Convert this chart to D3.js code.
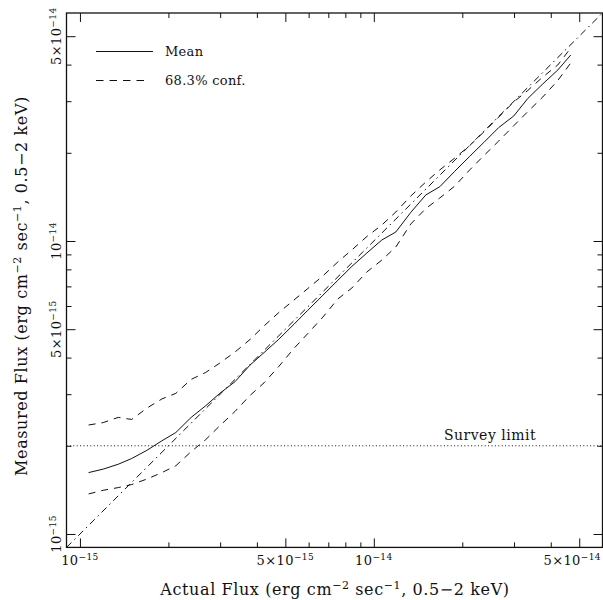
<!DOCTYPE html>
<html>
<head>
<meta charset="utf-8">
<script src="https://cdn.jsdelivr.net/npm/d3@7"></script>
<style>
  body { margin: 0; background: #fff; }
  text { font-family: "DejaVu Serif", serif; fill: #111; }
</style>
</head>
<body>
<script>
// fluxes in units of 1e-15 erg cm^-2 s^-1
var actualFlux = [1.07, 1.2, 1.35, 1.5, 1.69, 1.9, 2.12, 2.39, 2.68, 2.99, 3.37, 3.79, 4.23, 4.75, 5.35, 5.96, 6.71, 7.54, 8.42, 9.47,
                  10.65, 11.88, 13.36, 15.03, 16.77, 18.86, 21.21, 23.67, 26.62, 29.94, 33.41, 37.57, 42.26, 46.79];
var meanFlux = [1.62, 1.665, 1.73, 1.81, 1.93, 2.08, 2.22, 2.50, 2.74, 3.02, 3.31, 3.77, 4.16, 4.62, 5.20, 5.80, 6.53, 7.34, 8.19, 9.10,
                10.08, 10.73, 12.52, 14.36, 15.32, 17.30, 19.46, 21.69, 24.40, 26.71, 30.65, 34.35, 38.33, 43.13];
var upperFlux = [2.355, 2.40, 2.50, 2.46, 2.69, 2.89, 3.02, 3.37, 3.56, 3.83, 4.18, 4.61, 5.13, 5.70, 6.29, 6.88, 7.60, 8.48, 9.32, 10.36,
                 11.34, 12.56, 14.24, 15.90, 17.48, 19.20, 21.18, 23.55, 26.50, 29.82, 32.64, 36.28, 39.87, 45.58];
var lowerFlux = [1.37, 1.41, 1.44, 1.475, 1.54, 1.62, 1.71, 1.91, 2.10, 2.34, 2.62, 2.97, 3.28, 3.73, 4.30, 4.83, 5.50, 6.34, 6.91, 7.84,
                 8.61, 9.54, 11.43, 12.91, 14.02, 15.40, 17.50, 19.55, 21.95, 24.75, 27.63, 31.01, 35.30, 40.51];
var surveyLimit = 2;
var axisDomain = [0.9, 60];
var majorTicks = [1, 5, 10, 50];
var majorLabels = [["10", "\u221215"], ["5\u00d710", "\u221215"], ["10", "\u221214"], ["5\u00d710", "\u221214"]];
var minorTicks = [2, 3, 4, 6, 7, 8, 9, 20, 30, 40];

var W = 603, H = 600;
var x0 = 66.5, x1 = 602.5, yTop = 13, yBot = 547.4;

var svg = d3.select("body").append("svg").attr("width", W).attr("height", H);

var x = d3.scaleLog().domain(axisDomain).range([x0, x1]);
var y = d3.scaleLog().domain(axisDomain).range([yBot, yTop]);

var ink = "#111";

// ticks, all pointing inward
function ticks(axisFn, scale, vals, size, transform) {
  var g = svg.append("g").attr("transform", transform)
    .call(axisFn(scale).tickValues(vals).tickSize(size).tickFormat(""));
  g.select(".domain").remove();
  g.selectAll("line").attr("stroke", ink).attr("stroke-width", 1);
}
ticks(d3.axisBottom, x, majorTicks, -9, "translate(0," + yBot + ")");
ticks(d3.axisBottom, x, minorTicks, -5, "translate(0," + yBot + ")");
ticks(d3.axisTop, x, majorTicks, -9, "translate(0," + yTop + ")");
ticks(d3.axisTop, x, minorTicks, -5, "translate(0," + yTop + ")");
ticks(d3.axisLeft, y, majorTicks, -9, "translate(" + x0 + ",0)");
ticks(d3.axisLeft, y, minorTicks, -5, "translate(" + x0 + ",0)");
ticks(d3.axisRight, y, majorTicks, -9, "translate(" + x1 + ",0)");
ticks(d3.axisRight, y, minorTicks, -5, "translate(" + x1 + ",0)");

svg.append("rect").attr("x", x0).attr("y", yTop).attr("width", x1 - x0).attr("height", yBot - yTop)
  .attr("fill", "none").attr("stroke", ink).attr("stroke-width", 1.3);

// tick labels
function label(g, parts) {
  g.append("tspan").text(parts[0]);
  g.append("tspan").attr("dy", -5).attr("font-size", 9).text(parts[1]);
}
majorTicks.forEach(function(v, i) {
  var last = i === majorTicks.length - 1;
  var t = svg.append("text").attr("x", last ? 601 : x(v)).attr("y", 565)
    .attr("text-anchor", last ? "end" : "middle").attr("font-size", 13).attr("letter-spacing", 0.4);
  label(t, majorLabels[i]);
  var ty = svg.append("text").attr("transform", "translate(61," + y(v) + ") rotate(-90)")
    .attr("text-anchor", "middle").attr("font-size", 13).attr("letter-spacing", 0.4);
  label(ty, majorLabels[i]);
});

// axis titles
function title(t, first) {
  t.append("tspan").text(first + " Flux (erg cm");
  t.append("tspan").attr("dy", -6).attr("font-size", 11).text("\u22122");
  t.append("tspan").attr("dy", 6).text(" sec");
  t.append("tspan").attr("dy", -6).attr("font-size", 11).text("\u22121");
  t.append("tspan").attr("dy", 6).text(", 0.5\u22122 keV)");
}
title(svg.append("text").attr("x", 335).attr("y", 595).attr("text-anchor", "middle")
  .attr("font-size", 16).attr("letter-spacing", 0.6), "Actual");
title(svg.append("text").attr("transform", "translate(27,286) rotate(-90)").attr("text-anchor", "middle")
  .attr("font-size", 16).attr("letter-spacing", 0.6), "Measured");

// one-to-one line
svg.append("line")
  .attr("x1", x(axisDomain[0])).attr("y1", y(axisDomain[0]))
  .attr("x2", x(axisDomain[1])).attr("y2", y(axisDomain[1]))
  .attr("stroke", ink).attr("stroke-width", 1).attr("stroke-dasharray", "7,4,1.5,4");

// survey limit
svg.append("line").attr("x1", x0).attr("x2", x1).attr("y1", y(surveyLimit)).attr("y2", y(surveyLimit))
  .attr("stroke", ink).attr("stroke-width", 1).attr("stroke-dasharray", "1,2.4");
svg.append("text").attr("x", 490).attr("y", 440).attr("text-anchor", "middle").attr("font-size", 14)
  .attr("letter-spacing", 0.5).text("Survey limit");

var line = d3.line().x(function(d) { return x(d[0]); }).y(function(d) { return y(d[1]); });
function series(vals, dash) {
  svg.append("path").datum(d3.zip(actualFlux, vals)).attr("d", line)
    .attr("fill", "none").attr("stroke", ink).attr("stroke-width", 1)
    .attr("stroke-dasharray", dash);
}
series(meanFlux, null);
series(upperFlux, "7,6");
series(lowerFlux, "7,6");

// legend
svg.append("line").attr("x1", 96).attr("x2", 153).attr("y1", 51.5).attr("y2", 51.5).attr("stroke", ink);
svg.append("line").attr("x1", 96).attr("x2", 145).attr("y1", 80.5).attr("y2", 80.5).attr("stroke", ink).attr("stroke-dasharray", "7.5,6");
svg.append("text").attr("x", 165).attr("y", 56).attr("font-size", 13).attr("letter-spacing", 0.3).text("Mean");
svg.append("text").attr("x", 165).attr("y", 85).attr("font-size", 13).attr("letter-spacing", 0.3).text("68.3% conf.");
</script>
</body>
</html>
